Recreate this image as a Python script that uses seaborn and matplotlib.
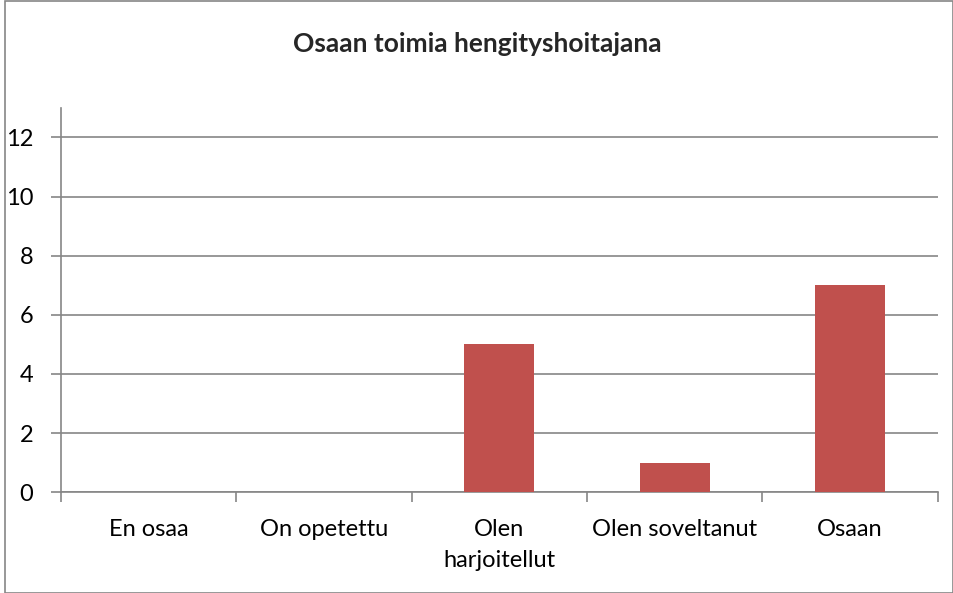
import numpy as np
import pandas as pd
import matplotlib
matplotlib.use("Agg")
import matplotlib.pyplot as plt
import seaborn as sns
from matplotlib.patches import Rectangle

categories = ["En osaa", "On opetettu", "Olen\nharjoitellut", "Olen soveltanut", "Osaan"]
counts = [0, 0, 5, 1, 7]
title = "Osaan toimia hengityshoitajana"

sns.set_theme(style="white")
plt.rcParams["font.family"] = ["Lato", "DejaVu Sans"]

df = pd.DataFrame({"category": categories, "count": counts})

fig = plt.figure(figsize=(9.54, 5.93), dpi=100)
ax = fig.add_axes([0.064, 0.170, 0.919, 0.648])

grey = "#868686"
sns.barplot(data=df, x="category", y="count", color="#C0504D", width=0.4,
            saturation=1, linewidth=0, edgecolor="none", ax=ax, zorder=3)

ax.set_ylim(0, 13)
ax.set_xlim(-0.5, len(categories) - 0.5)
ax.set_yticks(np.arange(0, 13, 2))
ax.yaxis.grid(True, color=grey, linewidth=1.2, zorder=0)
ax.set_axisbelow(True)

for s in ["top", "right"]:
    ax.spines[s].set_visible(False)
for s in ["left", "bottom"]:
    ax.spines[s].set_color(grey)
    ax.spines[s].set_linewidth(1.2)

ax.set_xticks(np.arange(-0.5, len(categories), 1), minor=True)
ax.tick_params(axis="x", which="minor", length=7, color=grey, width=1.2, direction="out", bottom=True)
ax.tick_params(axis="x", which="major", length=0, pad=19, labelsize=17, bottom=False, labelcolor="black")
ax.tick_params(axis="y", length=7, color=grey, width=1.2, direction="out", left=True,
               labelsize=17, pad=13, labelcolor="black")
for lbl in ax.get_xticklabels():
    lbl.set_linespacing(1.6)
ax.set_xlabel("")
ax.set_ylabel("")

fig.text(0.5, 0.925, title, ha="center", va="center", fontsize=19, fontweight="bold")
fig.patches.append(Rectangle((0.005, 0.0), 0.994, 0.999, transform=fig.transFigure,
                             fill=False, edgecolor=grey, linewidth=1.2))

fig.savefig("out.png", dpi=100)
